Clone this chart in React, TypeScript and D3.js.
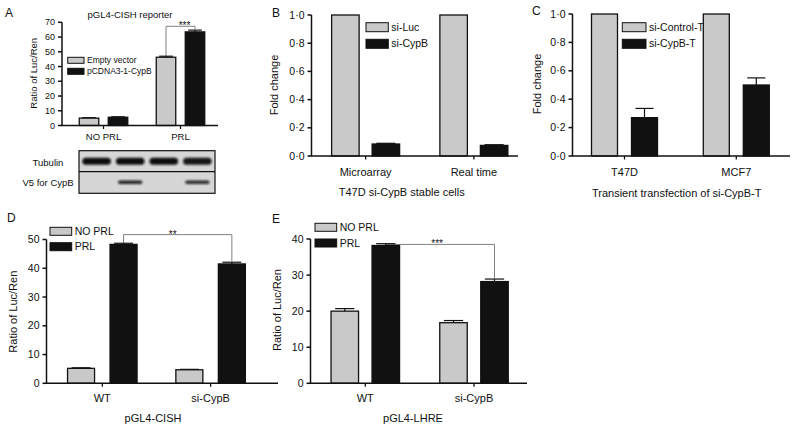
import React from 'react';
import * as d3 from 'd3';

const FONT = '"Liberation Sans", Arial, Helvetica, sans-serif';
const GRAY = '#c9c9c9';
const INK = '#111';

// ---------- Panel A ----------
const aGroups = ['NO PRL', 'PRL'];
const aSeries = ['Empty vector', 'pCDNA3-1-CypB'];
const aEmptyVector = [5.0, 46.3];
const aEmptyVectorErr = [0.3, 0.7];
const aCypB = [5.6, 63.5];
const aCypBErr = [0.3, 1.2];
const aYTicks = [0, 10, 20, 30, 40, 50, 60, 70];
const aBlotLanes = ['lane1', 'lane2', 'lane3', 'lane4'];
const aBlotRows = ['Tubulin', 'V5 for CypB'];
const aTubulinBand = [1, 1, 1, 0.95];
const aV5Band = [0, 0.9, 0, 0.85];

// ---------- Panel B ----------
const bGroups = ['Microarray', 'Real time'];
const bSeries = ['si-Luc', 'si-CypB'];
const bSiLuc = [1.0, 1.0];
const bSiLucErr = [0, 0];
const bSiCypB = [0.085, 0.075];
const bSiCypBErr = [0.005, 0.005];
const bYTicks = [0, 0.2, 0.4, 0.6, 0.8, 1.0];

// ---------- Panel C ----------
const cGroups = ['T47D', 'MCF7'];
const cSeries = ['si-Control-T', 'si-CypB-T'];
const cControl = [1.0, 1.0];
const cControlErr = [0, 0];
const cCypB = [0.27, 0.5];
const cCypBErr = [0.065, 0.05];
const cYTicks = [0, 0.2, 0.4, 0.6, 0.8, 1.0];

// ---------- Panel D ----------
const dGroups = ['WT', 'si-CypB'];
const dSeries = ['NO PRL', 'PRL'];
const dNoPrl = [5.2, 4.7];
const dNoPrlErr = [0.2, 0.15];
const dPrl = [48.3, 41.5];
const dPrlErr = [0.4, 0.6];
const dYTicks = [0, 10, 20, 30, 40, 50];

// ---------- Panel E ----------
const eGroups = ['WT', 'si-CypB'];
const eSeries = ['NO PRL', 'PRL'];
const eNoPrl = [20.0, 16.8];
const eNoPrlErr = [0.7, 0.6];
const ePrl = [38.2, 28.2];
const ePrlErr = [0.5, 0.7];
const eYTicks = [0, 10, 20, 30, 40];

const fmtInt = (v: number) => d3.format('d')(v);
const fmtDot = (v: number) => d3.format('.1f')(v).replace('.', '\u00b7');

type Layout = {
  axisLeft: number; axisRight: number; bandLeft: number; bandRight: number;
  yTop: number; yBottom: number; barW: number; gap: number;
  tickFont: number; labelFont: number; xLabelY: number;
  xTitleX?: number; xTitleY?: number; yTitleX: number; yTitleY: number;
  letterX: number; letterY: number;
  legendX: number; legendY: number; legendW: number; legendH: number; legendStep: number; legendFont: number;
  titleX?: number; titleY?: number;
};

type Bracket = { from: [number, number]; to: [number, number]; level: number; label: string; dx: number };

type PanelProps = {
  letter: string; groups: string[]; series: string[]; values: number[][]; errors: number[][];
  yDomain: [number, number]; yTicks: number[]; fmt: (v: number) => string;
  yTitle: string; xTitle?: string; title?: string; L: Layout; bracket?: Bracket;
};

function Panel({ letter, groups, series, values, errors, yDomain, yTicks, fmt, yTitle, xTitle, title, L, bracket }: PanelProps) {
  const y = d3.scaleLinear().domain(yDomain).range([L.yBottom, L.yTop]);
  const xg = d3.scaleBand<string>().domain(groups).range([L.bandLeft, L.bandRight]);
  const half = L.barW + L.gap / 2;
  const xs = d3.scaleBand<string>().domain(series).range([-half, half]).paddingInner(L.gap / (L.barW + L.gap));
  const center = (g: string) => (xg(g) as number) + xg.bandwidth() / 2;
  const barX = (gi: number, si: number) => center(groups[gi]) + (xs(series[si]) as number);
  const barC = (gi: number, si: number) => barX(gi, si) + xs.bandwidth() / 2;
  const fills = [GRAY, INK];
  const capW = xs.bandwidth() * 0.7;

  let bracketEl = null;
  if (bracket) {
    const [g1, s1] = bracket.from;
    const [g2, s2] = bracket.to;
    const x1 = barC(g1, s1);
    const x2 = barC(g2, s2);
    const yl = y(bracket.level);
    const y1 = y(values[s1][g1] + errors[s1][g1]);
    const y2 = y(values[s2][g2] + errors[s2][g2]) - 1;
    bracketEl = (
      <g>
        <path d={`M${x1},${y1}V${yl}H${x2}V${y2}`} fill="none" stroke="#808080" strokeWidth={1} />
        <text x={(x1 + x2) / 2 + bracket.dx} y={yl + 3} textAnchor="middle" fontSize={10} fill={INK}>{bracket.label}</text>
      </g>
    );
  }

  return (
    <g fontFamily={FONT}>
      <text x={L.letterX} y={L.letterY} fontSize={12} fill={INK}>{letter}</text>
      {title && <text x={L.titleX} y={L.titleY} fontSize={L.labelFont} textAnchor="middle" fill={INK}>{title}</text>}
      {bracketEl}
      {series.map((s, si) => groups.map((g, gi) => {
        const v = values[si][gi];
        const e = errors[si][gi];
        const cx = barC(gi, si);
        return (
          <g key={s + g}>
            {e > 0 && (
              <g stroke={INK} strokeWidth={1.2}>
                <line x1={cx} x2={cx} y1={y(v)} y2={y(v + e)} />
                <line x1={cx - capW / 2} x2={cx + capW / 2} y1={y(v + e)} y2={y(v + e)} />
              </g>
            )}
            <rect x={barX(gi, si)} y={y(v)} width={xs.bandwidth()} height={y(0) - y(v)}
              fill={fills[si]} stroke={INK} strokeWidth={1.3} />
          </g>
        );
      }))}
      {/* y axis */}
      <line x1={L.axisLeft} x2={L.axisLeft} y1={y(yDomain[0])} y2={y(yTicks[yTicks.length - 1])} stroke={INK} strokeWidth={1.5} />
      {yTicks.map(t => (
        <g key={t}>
          <line x1={L.axisLeft - 4} x2={L.axisLeft} y1={y(t)} y2={y(t)} stroke={INK} strokeWidth={1.5} />
          <text x={L.axisLeft - 7} y={y(t)} dy="0.35em" textAnchor="end" fontSize={L.tickFont} fill={INK}>{fmt(t)}</text>
        </g>
      ))}
      {/* x axis */}
      <line x1={L.axisLeft - 0.75} x2={L.axisRight} y1={y(0)} y2={y(0)} stroke={INK} strokeWidth={1.5} />
      {groups.map(g => (
        <g key={g}>
          <line x1={center(g)} x2={center(g)} y1={y(0)} y2={y(0) + 3.5} stroke={INK} strokeWidth={1.3} />
          <text x={center(g)} y={L.xLabelY} textAnchor="middle" fontSize={L.labelFont} fill={INK}>{g}</text>
        </g>
      ))}
      {xTitle && <text x={L.xTitleX} y={L.xTitleY} textAnchor="middle" fontSize={L.labelFont} fill={INK}>{xTitle}</text>}
      <text transform={`translate(${L.yTitleX},${L.yTitleY}) rotate(-90)`} dy="0.35em" textAnchor="middle" fontSize={L.labelFont} fill={INK}>{yTitle}</text>
      {/* legend */}
      {series.map((s, si) => (
        <g key={s}>
          <rect x={L.legendX} y={L.legendY + si * L.legendStep} width={L.legendW} height={L.legendH}
            fill={fills[si]} stroke={INK} strokeWidth={1} />
          <text x={L.legendX + L.legendW + 3} y={L.legendY + si * L.legendStep + L.legendH / 2} dy="0.35em"
            fontSize={L.legendFont} fill={INK}>{s}</text>
        </g>
      ))}
    </g>
  );
}

function Blot() {
  const x0 = 79, x1 = 215, yTop = 150.7, yMid = 171.7, yBot = 193.3;
  const lanes = d3.scaleBand<string>().domain(aBlotLanes).range([x0, x1]).paddingInner(0.15).paddingOuter(0.1);
  const rows = [
    { name: aBlotRows[0], vals: aTubulinBand, cy: 161.3, h: 7, w: 1.0, ly: 165.5 },
    { name: aBlotRows[1], vals: aV5Band, cy: 182.2, h: 3.6, w: 0.85, ly: 186 },
  ];
  return (
    <g fontFamily={FONT}>
      <defs>
        <filter id="blur" x="-20%" y="-50%" width="140%" height="200%">
          <feGaussianBlur stdDeviation="0.9" />
        </filter>
      </defs>
      <rect x={x0} y={yTop} width={x1 - x0} height={yBot - yTop} fill="#d6d6d6" stroke={INK} strokeWidth={1.2} />
      <line x1={x0} x2={x1} y1={yMid} y2={yMid} stroke={INK} strokeWidth={1.2} />
      {rows.map(r => (
        <g key={r.name}>
          <text x={48} y={r.ly} textAnchor="middle" fontSize={9.5} fill={INK}>{r.name}</text>
          {aBlotLanes.map((l, i) => r.vals[i] > 0 && (
            <rect key={l} x={(lanes(l) as number) + lanes.bandwidth() * (1 - r.w) / 2} y={r.cy - r.h / 2}
              width={lanes.bandwidth() * r.w} height={r.h} rx={r.h / 2}
              fill="#0a0a0a" opacity={r.vals[i]} filter="url(#blur)" />
          ))}
        </g>
      ))}
    </g>
  );
}

export default function App() {
  const LA: Layout = {
    axisLeft: 62, axisRight: 218, bandLeft: 65, bandRight: 219, yTop: 22.3, yBottom: 125.5, barW: 19.5, gap: 9.5,
    tickFont: 9, labelFont: 9.5, xLabelY: 140, yTitleX: 33.8, yTitleY: 73.3, letterX: 5, letterY: 17,
    legendX: 67.7, legendY: 57.3, legendW: 16.3, legendH: 6, legendStep: 11, legendFont: 8.5,
    titleX: 130, titleY: 18,
  };
  const LB: Layout = {
    axisLeft: 311.5, axisRight: 518, bandLeft: 311.5, bandRight: 528, yTop: 15, yBottom: 156, barW: 27.5, gap: 13,
    tickFont: 10.5, labelFont: 11, xLabelY: 176, xTitleX: 401.7, xTitleY: 196, yTitleX: 274.5, yTitleY: 85,
    letterX: 272, letterY: 17, legendX: 366, legendY: 22.7, legendW: 22.3, legendH: 9, legendStep: 16.6, legendFont: 10.5,
  };
  const LC: Layout = {
    axisLeft: 572.5, axisRight: 790, bandLeft: 568.6, bandRight: 792.2, yTop: 14, yBottom: 156, barW: 26, gap: 14,
    tickFont: 10.5, labelFont: 11, xLabelY: 176, xTitleX: 676.7, xTitleY: 197, yTitleX: 536.7, yTitleY: 84,
    letterX: 532, letterY: 15, legendX: 622.3, legendY: 22.7, legendW: 23.7, legendH: 9, legendStep: 16.6, legendFont: 10.5,
  };
  const LD: Layout = {
    axisLeft: 46.5, axisRight: 278, bandLeft: 48.15, bandRight: 264.75, yTop: 239.5, yBottom: 383.3, barW: 27, gap: 15.5,
    tickFont: 10.5, labelFont: 11, xLabelY: 402, xTitleX: 153, xTitleY: 422, yTitleX: 13.3, yTitleY: 311.7,
    letterX: 7, letterY: 222, legendX: 50, legendY: 227.3, legendW: 21.7, legendH: 8, legendStep: 15.4, legendFont: 10.5,
  };
  const LE: Layout = {
    axisLeft: 310.5, axisRight: 527, bandLeft: 310.95, bandRight: 528.35, yTop: 239, yBottom: 383.3, barW: 27.5, gap: 13.5,
    tickFont: 10.5, labelFont: 11, xLabelY: 402, xTitleX: 413, xTitleY: 422, yTitleX: 276.7, yTitleY: 310,
    letterX: 272, letterY: 223, legendX: 315, legendY: 223.3, legendW: 21.7, legendH: 8, legendStep: 15.7, legendFont: 10.5,
  };
  return (
    <svg width={800} height={432} style={{ position: 'absolute', left: 0, top: 0, background: '#fff' }}>
      <rect width={800} height={432} fill="#fff" />
      <Panel letter="A" title="pGL4-CISH reporter" groups={aGroups} series={aSeries}
        values={[aEmptyVector, aCypB]} errors={[aEmptyVectorErr, aCypBErr]} yDomain={[0, 70]} yTicks={aYTicks}
        fmt={fmtInt} yTitle="Ratio of Luc/Ren" L={LA}
        bracket={{ from: [1, 0], to: [1, 1], level: 67.3, label: '***', dx: 4 }} />
      <Blot />
      <Panel letter="B" groups={bGroups} series={bSeries} values={[bSiLuc, bSiCypB]} errors={[bSiLucErr, bSiCypBErr]}
        yDomain={[0, 1]} yTicks={bYTicks} fmt={fmtDot} yTitle="Fold change" xTitle="T47D si-CypB stable cells" L={LB} />
      <Panel letter="C" groups={cGroups} series={cSeries} values={[cControl, cCypB]} errors={[cControlErr, cCypBErr]}
        yDomain={[0, 1]} yTicks={cYTicks} fmt={fmtDot} yTitle="Fold change" xTitle="Transient transfection of si-CypB-T" L={LC} />
      <Panel letter="D" groups={dGroups} series={dSeries} values={[dNoPrl, dPrl]} errors={[dNoPrlErr, dPrlErr]}
        yDomain={[0, 50]} yTicks={dYTicks} fmt={fmtInt} yTitle="Ratio of Luc/Ren" xTitle="pGL4-CISH" L={LD}
        bracket={{ from: [0, 1], to: [1, 1], level: 51.7, label: '**', dx: -5 }} />
      <Panel letter="E" groups={eGroups} series={eSeries} values={[eNoPrl, ePrl]} errors={[eNoPrlErr, ePrlErr]}
        yDomain={[0, 40]} yTicks={eYTicks} fmt={fmtInt} yTitle="Ratio of Luc/Ren" xTitle="pGL4-LHRE" L={LE}
        bracket={{ from: [0, 1], to: [1, 1], level: 38.5, label: '***', dx: -3 }} />
    </svg>
  );
}
